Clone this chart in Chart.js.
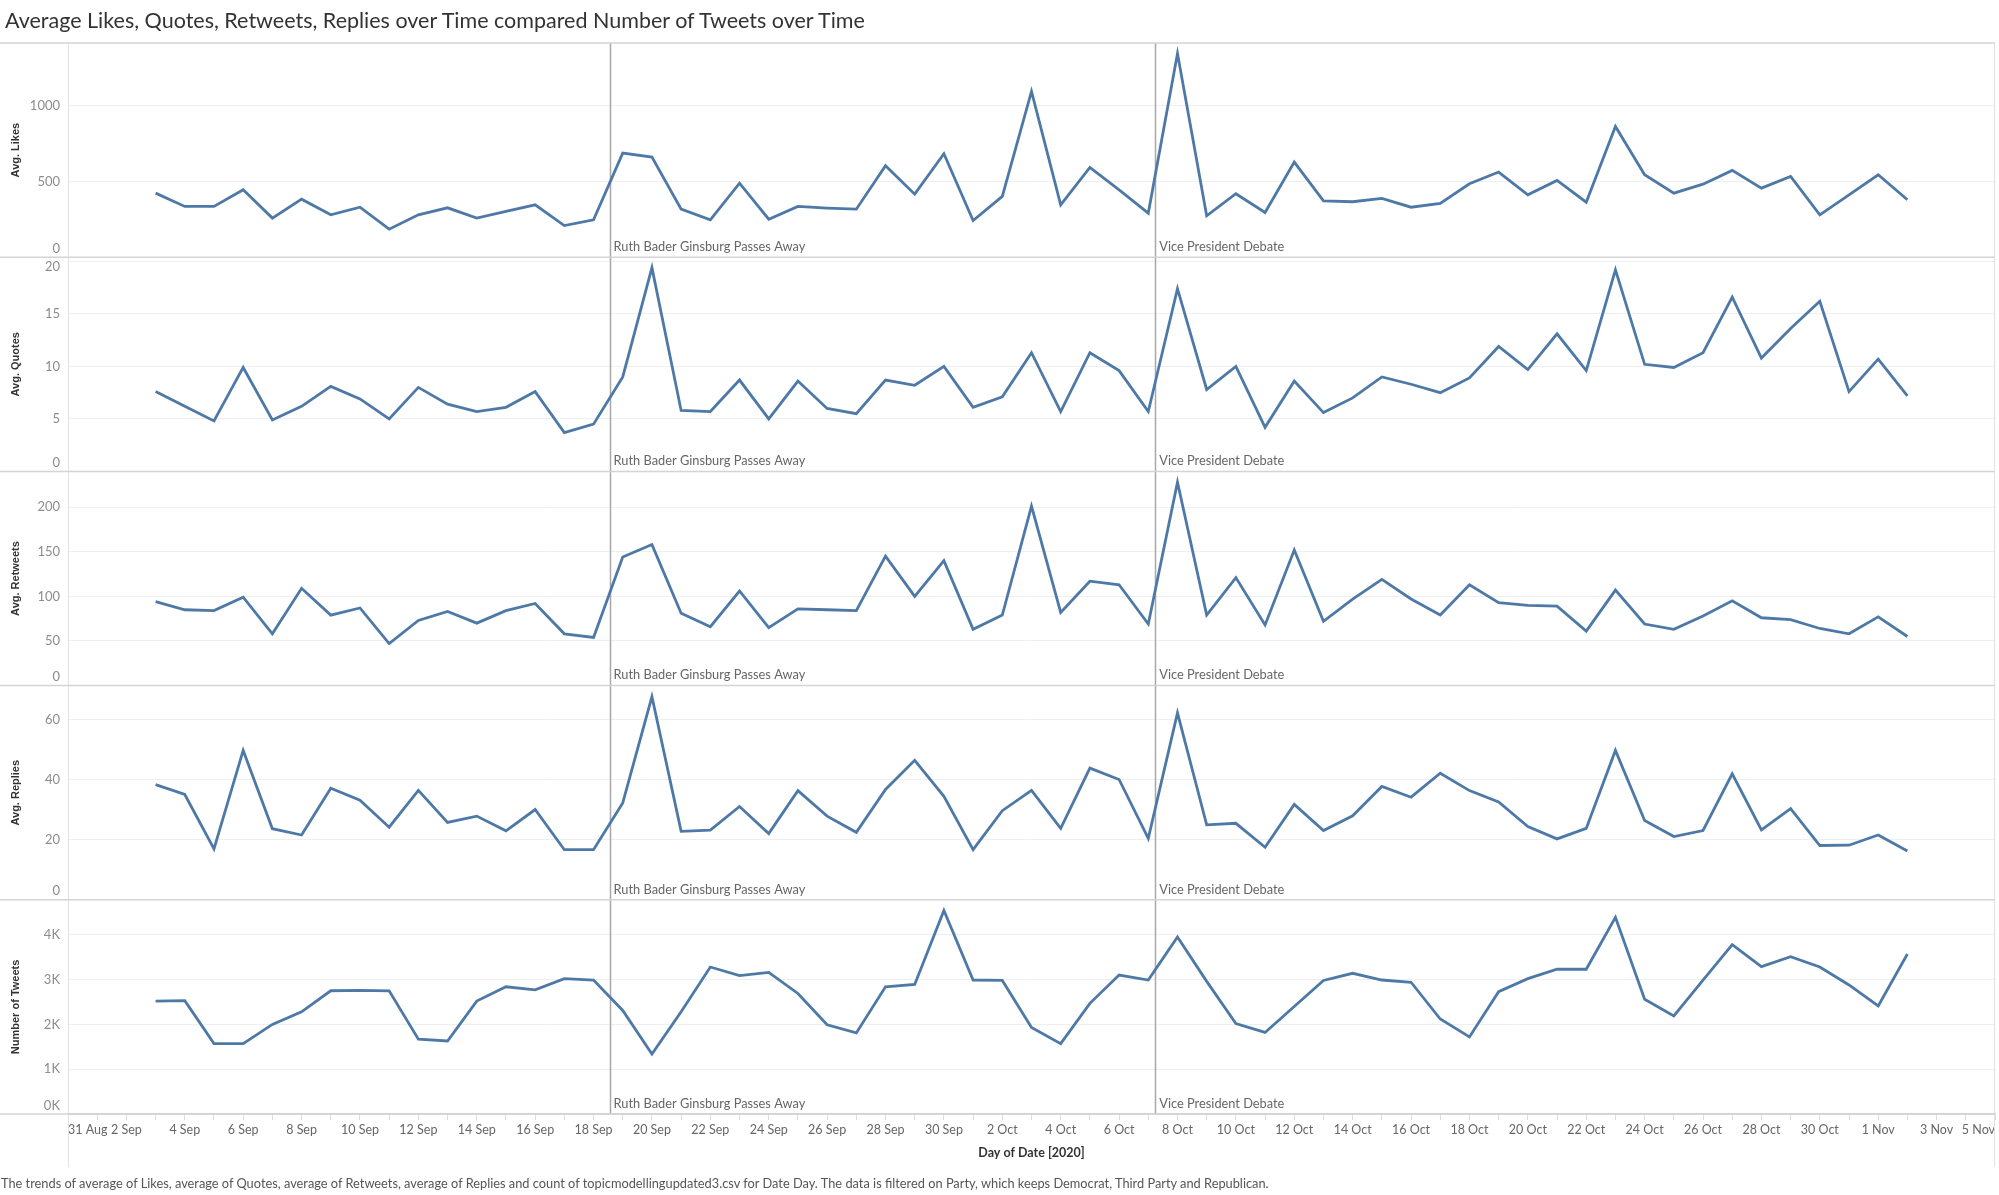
<!DOCTYPE html>
<html>
<head>
<meta charset="utf-8">
<script src="https://cdn.jsdelivr.net/npm/chart.js@4.4.0/dist/chart.umd.min.js"></script>
<style>
  html, body { margin: 0; padding: 0; background: #fff; }
  #wrap { position: relative; width: 1999px; height: 1195px; overflow: hidden; }
  #chart { position: absolute; left: 0; top: 0; }
  #title { position: absolute; left: 5px; top: 7px; font: 21.5px Lato, sans-serif; color: #333; white-space: nowrap; line-height: 26px; }
  #note { position: absolute; left: 1px; top: 1175px; font: 12.8px Lato, sans-serif; color: #555; white-space: nowrap; line-height: 16px; }
</style>
</head>
<body>
<div id="wrap">
  <canvas id="chart" width="1999" height="1195"></canvas>
  <div id="title">Average Likes, Quotes, Retweets, Replies over Time compared Number of Tweets over Time</div>
  <div id="note">The trends of average of Likes, average of Quotes, average of Retweets, average of Replies and count of topicmodellingupdated3.csv for Date Day. The data is filtered on Party, which keeps Democrat, Third Party and Republican.</div>
</div>
<script>
// one point per day, 3 Sep - 2 Nov 2020
var dates = [
  '2020-09-03','2020-09-04','2020-09-05','2020-09-06','2020-09-07','2020-09-08','2020-09-09','2020-09-10','2020-09-11','2020-09-12',
  '2020-09-13','2020-09-14','2020-09-15','2020-09-16','2020-09-17','2020-09-18','2020-09-19','2020-09-20','2020-09-21','2020-09-22',
  '2020-09-23','2020-09-24','2020-09-25','2020-09-26','2020-09-27','2020-09-28','2020-09-29','2020-09-30','2020-10-01','2020-10-02',
  '2020-10-03','2020-10-04','2020-10-05','2020-10-06','2020-10-07','2020-10-08','2020-10-09','2020-10-10','2020-10-11','2020-10-12',
  '2020-10-13','2020-10-14','2020-10-15','2020-10-16','2020-10-17','2020-10-18','2020-10-19','2020-10-20','2020-10-21','2020-10-22',
  '2020-10-23','2020-10-24','2020-10-25','2020-10-26','2020-10-27','2020-10-28','2020-10-29','2020-10-30','2020-10-31','2020-11-01',
  '2020-11-02'
];

var likes = [423,335,335,445,258,383,280,330,185,280, 326,258,302,346,209,247,687,661,317,247,
  489,251,335,324,317,604,416,683,242,401, 1095,346,593,445,291,1344,273,419,295,628,
  372,366,388,330,355,485,562,412,507,363, 863,544,423,482,573,456,533,280,412,544, 379];

var quotes = [7.6,6.2,4.8,9.9,4.9,6.2,8.1,6.9,5.0,8.0, 6.4,5.7,6.1,7.6,3.7,4.5,9.0,19.4,5.8,5.7,
  8.7,5.0,8.6,6.0,5.5,8.7,8.2,10.0,6.1,7.1, 11.3,5.7,11.3,9.6,5.7,17.4,7.8,10.0,4.2,8.6,
  5.6,7.0,9.0,8.3,7.5,8.9,11.9,9.7,13.1,9.6, 19.2,10.2,9.9,11.3,16.6,10.8,13.6,16.2,7.6,10.7, 7.2];

var retweets = [94,85,84,99,58,109,79,87,47,73, 83,70,84,92,58,54,144,158,81,66,
  106,65,86,85,84,145,100,140,63,79, 201,82,117,113,69,228,79,121,68,152,
  72,97,119,97,79,113,93,90,89,61, 107,69,63,78,95,76,74,64,58,77, 55];

var replies = [38.4,35.1,17.0,49.8,23.7,21.6,37.2,33.2,24.2,36.5, 25.8,27.9,23.0,30.1,16.7,16.7,32.3,67.7,22.8,23.2,
  31.1,22.1,36.4,27.9,22.5,36.8,46.5,34.5,16.7,29.7, 36.5,23.8,43.9,40.1,20.5,62.3,25.0,25.5,17.5,31.8,
  23.1,28.0,37.8,34.2,42.2,36.4,32.6,24.4,20.3,23.8, 49.8,26.4,21.1,23.1,42.0,23.3,30.4,18.1,18.2,21.6, 16.3];

var tweets = [2520,2530,1570,1570,2000,2280,2750,2760,2750,1670, 1630,2520,2840,2770,3020,2990,2310,1340,2280,3280,
  3090,3160,2690,1990,1810,2840,2890,4540,2990,2980, 1930,1570,2470,3100,2990,3950,2960,2020,1820,2400,
  2980,3140,2990,2940,2120,1720,2730,3020,3230,3230, 4390,2560,2190,2990,3780,3290,3510,3280,2880,2410, 3570];

// y tick values of each panel
var likesTicks = [0, 500, 1000];
var quotesTicks = [0, 5, 10, 15, 20];
var retweetsTicks = [0, 50, 100, 150, 200];
var repliesTicks = [0, 20, 40, 60];
var tweetsTicks = [0, 1000, 2000, 3000, 4000];

// axis labels every 2 days from 31 Aug
var xTickLabels = ['31 Aug','2 Sep','4 Sep','6 Sep','8 Sep','10 Sep','12 Sep','14 Sep','16 Sep','18 Sep',
  '20 Sep','22 Sep','24 Sep','26 Sep','28 Sep','30 Sep','2 Oct','4 Oct','6 Oct','8 Oct',
  '10 Oct','12 Oct','14 Oct','16 Oct','18 Oct','20 Oct','22 Oct','24 Oct','26 Oct','28 Oct',
  '30 Oct','1 Nov','3 Nov','5 Nov'];

// reference lines, in days after 31 Aug
var eventDays = [18.55, 37.24];
var eventLabels = ['Ruth Bader Ginsburg Passes Away', 'Vice President Debate'];

var day0 = Date.UTC(2020, 7, 31);
function dayNum(s) {
  var p = s.split('-');
  return (Date.UTC(+p[0], +p[1] - 1, +p[2]) - day0) / 86400000;
}
function pts(vals) {
  return vals.map(function (v, i) { return { x: dayNum(dates[i]), y: v }; });
}

var panels = [
  { id: 'yLikes', title: 'Avg. Likes', vals: likes, ticks: likesTicks, max: 1414 },
  { id: 'yQuotes', title: 'Avg. Quotes', vals: quotes, ticks: quotesTicks, max: 20.4 },
  { id: 'yRetweets', title: 'Avg. Retweets', vals: retweets, ticks: retweetsTicks, max: 240 },
  { id: 'yReplies', title: 'Avg. Replies', vals: replies, ticks: repliesTicks, max: 71.4 },
  { id: 'yTweets', title: 'Number of Tweets', vals: tweets, ticks: tweetsTicks, max: 4780, k: true }
];

var scales = {
  x: {
    type: 'linear', position: 'bottom', min: 0, max: 66,
    grid: { drawOnChartArea: false, drawTicks: true, tickLength: 6, color: '#dedede' },
    border: { display: true, color: '#d0d0d0', width: 1.5 },
    ticks: {
      stepSize: 1, autoSkip: false, maxRotation: 0, minRotation: 0, align: 'inner', padding: 2,
      color: '#666', font: { family: 'Lato', size: 12.5 },
      callback: function (v) { return v % 2 === 0 ? xTickLabels[v / 2] : ''; }
    },
    title: { display: true, text: 'Day of Date [2020]', color: '#333',
      font: { family: 'Lato', size: 12.5, weight: 'bold' }, padding: { top: 0, bottom: 7 } },
    afterFit: function (s) { s.height = 53; }
  }
};
var datasets = [];

panels.forEach(function (p, i) {
  scales[p.id] = {
    type: 'linear', position: 'left', stack: 'panels', stackWeight: 1, weight: 5 - i,
    min: 0, max: p.max,
    grid: { color: '#efefef', drawTicks: false, lineWidth: 1 },
    border: { display: false },
    ticks: { display: false },
    title: { display: true, text: p.title, color: '#333',
      font: { family: 'Liberation Sans', size: 11, weight: 'bold' }, padding: { top: 9, bottom: 0 } },
    afterBuildTicks: function (s) {
      s.ticks = p.ticks.map(function (v) { return { value: v }; });
    },
    afterFit: function (s) { s.width = 68; }
  };
  datasets.push({
    label: p.title, data: pts(p.vals), xAxisID: 'x', yAxisID: p.id,
    borderColor: '#4e79a7', borderWidth: 2.8, pointRadius: 0, tension: 0, fill: false
  });
});

var decor = {
  id: 'decor',
  beforeDatasetsDraw: function (chart) {
    var ctx = chart.ctx, ca = chart.chartArea, xs = chart.scales.x;
    ctx.save();
    ctx.strokeStyle = '#a8a8a8';
    ctx.lineWidth = 1.5;
    eventDays.forEach(function (d) {
      var px = Math.round(xs.getPixelForValue(d)) + 0.5;
      ctx.beginPath(); ctx.moveTo(px, ca.top); ctx.lineTo(px, ca.bottom); ctx.stroke();
    });
    ctx.restore();
  },
  afterDraw: function (chart) {
    var ctx = chart.ctx, ca = chart.chartArea, xs = chart.scales.x;
    ctx.save();
    // outer frame
    ctx.strokeStyle = '#e2e2e2'; ctx.lineWidth = 1;
    ctx.beginPath();
    ctx.moveTo(ca.left + 0.5, ca.top); ctx.lineTo(ca.left + 0.5, xs.bottom);
    ctx.moveTo(ca.right - 0.5, ca.top); ctx.lineTo(ca.right - 0.5, xs.bottom);
    ctx.stroke();
    // panel separators
    ctx.strokeStyle = '#d4d4d4'; ctx.lineWidth = 1.5;
    panels.forEach(function (p) {
      var s = chart.scales[p.id];
      ctx.beginPath(); ctx.moveTo(0, s.top); ctx.lineTo(ca.right, s.top); ctx.stroke();
    });
    ctx.beginPath(); ctx.moveTo(0, ca.bottom); ctx.lineTo(ca.right, ca.bottom); ctx.stroke();

    // y tick labels, kept inside each panel
    ctx.font = '13px Lato';
    ctx.fillStyle = '#8c8c8c';
    ctx.textAlign = 'right';
    panels.forEach(function (p) {
      var s = chart.scales[p.id];
      s.ticks.forEach(function (t) {
        var py = s.getPixelForValue(t.value);
        var txt = p.k ? (t.value / 1000) + 'K' : String(t.value);
        if (py > s.bottom - 9) { ctx.textBaseline = 'bottom'; py = s.bottom - 2; }
        else if (py < s.top + 9) { ctx.textBaseline = 'top'; py = s.top + 3; }
        else { ctx.textBaseline = 'middle'; }
        ctx.fillText(txt, ca.left - 8, py);
      });
    });

    // reference line labels
    ctx.font = '12.8px Lato';
    ctx.fillStyle = '#666';
    ctx.textAlign = 'left';
    ctx.textBaseline = 'bottom';
    panels.forEach(function (p) {
      var s = chart.scales[p.id];
      eventDays.forEach(function (d, j) {
        ctx.fillText(eventLabels[j], xs.getPixelForValue(d) + 4, s.bottom - 4);
      });
    });
    ctx.restore();
  }
};

new Chart(document.getElementById('chart'), {
  type: 'line',
  data: { datasets: datasets },
  options: {
    responsive: false,
    animation: false,
    layout: { padding: { top: 43, left: 0, right: 4, bottom: 28 } },
    scales: scales,
    plugins: { legend: { display: false }, tooltip: { enabled: false } }
  },
  plugins: [decor]
});
</script>
</body>
</html>
